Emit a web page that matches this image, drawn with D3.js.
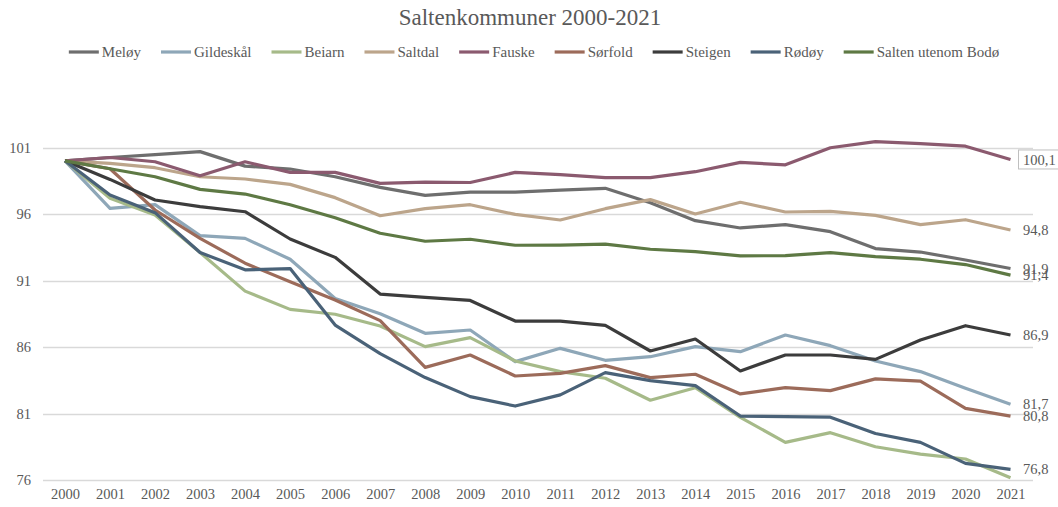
<!DOCTYPE html>
<html>
<head>
<meta charset="utf-8">
<script src="https://cdn.jsdelivr.net/npm/d3@7"></script>
<style>
  body { margin: 0; background: #fff; }
  svg text { font-family: "Liberation Serif", "DejaVu Serif", serif; fill: #595959; }
</style>
</head>
<body>
<div id="chart"></div>
<script>
var svgWidth = 1058;
var svgHeight = 507;

// Data
var years = ["2000", "2001", "2002", "2003", "2004", "2005", "2006", "2007", "2008", "2009", "2010",
  "2011", "2012", "2013", "2014", "2015", "2016", "2017", "2018", "2019", "2020", "2021"];

var seriesNames = ["Meløy", "Gildeskål", "Beiarn", "Saltdal", "Fauske", "Sørfold", "Steigen", "Rødøy", "Salten utenom Bodø"];

var meloy = [100, 100.25, 100.46, 100.69, 99.6, 99.38, 98.8, 98.0, 97.4, 97.65, 97.65, 97.8, 97.93, 96.85, 95.5, 94.95, 95.2, 94.67, 93.4, 93.14, 92.54, 91.9];
var gildeskal = [100, 96.42, 96.7, 94.37, 94.17, 92.6, 89.65, 88.5, 87.03, 87.28, 84.9, 85.9, 85.0, 85.27, 86.03, 85.65, 86.9, 86.1, 84.95, 84.15, 82.9, 81.7];
var beiarn = [100, 97.18, 95.92, 93.1, 90.2, 88.83, 88.46, 87.58, 86.03, 86.7, 84.95, 84.15, 83.65, 82.0, 82.94, 80.71, 78.83, 79.56, 78.5, 77.95, 77.58, 76.17];
var saltdal = [100, 99.8, 99.48, 98.8, 98.63, 98.23, 97.23, 95.87, 96.4, 96.7, 95.97, 95.55, 96.4, 97.08, 96.0, 96.88, 96.15, 96.2, 95.9, 95.2, 95.57, 94.8];
var fauske = [100, 100.25, 99.93, 98.88, 99.93, 99.13, 99.13, 98.3, 98.4, 98.37, 99.13, 98.96, 98.73, 98.73, 99.18, 99.88, 99.7, 100.98, 101.44, 101.29, 101.1, 100.1];
var sorfold = [100, 99.4, 96.3, 94.17, 92.3, 90.9, 89.53, 87.98, 84.47, 85.4, 83.82, 84.02, 84.6, 83.7, 83.95, 82.47, 82.94, 82.72, 83.6, 83.44, 81.39, 80.8];
var steigen = [100, 98.6, 97.05, 96.55, 96.17, 94.12, 92.74, 89.98, 89.73, 89.5, 87.95, 87.95, 87.63, 85.7, 86.6, 84.2, 85.4, 85.4, 85.07, 86.53, 87.6, 86.9];
var rodoy = [100, 97.43, 96.1, 93.1, 91.8, 91.9, 87.65, 85.5, 83.7, 82.27, 81.56, 82.4, 84.07, 83.47, 83.1, 80.81, 80.77, 80.72, 79.5, 78.83, 77.25, 76.8];
var salten = [100, 99.4, 98.8, 97.85, 97.5, 96.7, 95.72, 94.55, 93.95, 94.1, 93.65, 93.66, 93.74, 93.35, 93.17, 92.85, 92.87, 93.1, 92.8, 92.6, 92.2, 91.4];

var seriesValues = [meloy, gildeskal, beiarn, saltdal, fauske, sorfold, steigen, rodoy, salten];
var colors = ["#6e6e6e", "#8ea7b8", "#a6ba89", "#bca58b", "#8b5a6f", "#9c6b5a", "#3c3c3c", "#4a6278", "#5e7944"];

var yTicks = [76, 81, 86, 91, 96, 101];
var endLabels = ["91,9", "81,7", "", "94,8", "100,1", "80,8", "86,9", "76,8", "91,4"];

var fontFam = "'Liberation Serif', 'DejaVu Serif', serif";
var margin = { top: 60, right: 25, bottom: 27, left: 43 };

var svg = d3.select("#chart")
  .append("svg")
  .attr("width", svgWidth)
  .attr("height", svgHeight)
  .attr("font-family", fontFam);

var x = d3.scalePoint()
  .domain(years)
  .range([65, 1010.5]);

var y = d3.scaleLinear()
  .domain([76, 101])
  .range([480, 147.5]);

// gridlines
svg.append("g")
  .selectAll("line")
  .data(yTicks)
  .enter()
  .append("line")
  .attr("x1", margin.left)
  .attr("x2", svgWidth - margin.right)
  .attr("y1", d => Math.round(y(d)) + 0.5)
  .attr("y2", d => Math.round(y(d)) + 0.5)
  .attr("stroke", "#d9d9d9")
  .attr("stroke-width", 1.3);

// y axis labels
var leftAxis = d3.axisLeft(y).tickValues(yTicks).tickSize(0).tickPadding(0);
svg.append("g")
  .attr("transform", "translate(31,0)")
  .call(leftAxis)
  .attr("font-family", fontFam)
  .call(g => g.select(".domain").remove())
  .selectAll("text")
  .attr("font-size", 14.5)
  .attr("fill", "#595959");

// x axis labels
var bottomAxis = d3.axisBottom(x).tickSize(0).tickPadding(0);
svg.append("g")
  .attr("transform", "translate(0,489)")
  .call(bottomAxis)
  .attr("font-family", fontFam)
  .call(g => g.select(".domain").remove())
  .selectAll("text")
  .attr("font-size", 14.5)
  .attr("fill", "#595959");

// lines
var line = d3.line()
  .x((d, i) => x(years[i]))
  .y(d => y(d));

svg.append("g")
  .selectAll("path")
  .data(seriesValues)
  .enter()
  .append("path")
  .attr("d", d => line(d))
  .attr("fill", "none")
  .attr("stroke", (d, i) => colors[i])
  .attr("stroke-width", 3.2)
  .attr("stroke-linejoin", "round");

// end labels
seriesValues.forEach(function(vals, i) {
  if (!endLabels[i]) return;
  var ly = y(vals[vals.length - 1]);
  var t = svg.append("text")
    .attr("x", 1023)
    .attr("y", ly)
    .attr("dy", "0.35em")
    .attr("font-size", 14.5)
    .text(endLabels[i]);
  if (seriesNames[i] === "Fauske") {
    var bb = t.node().getBBox();
    svg.append("rect")
      .attr("x", bb.x - 4.5)
      .attr("y", ly - 9.5)
      .attr("width", bb.width + 9)
      .attr("height", 19)
      .attr("fill", "none")
      .attr("stroke", "#bfbfbf");
  }
});

// title
svg.append("text")
  .attr("x", 530)
  .attr("y", 25)
  .attr("text-anchor", "middle")
  .attr("font-size", 23)
  .text("Saltenkommuner 2000-2021");

// legend
var legend = svg.append("g");
var lx = 0;
seriesNames.forEach(function(name, i) {
  var item = legend.append("g").attr("transform", `translate(${lx},0)`);
  item.append("line")
    .attr("x1", 0).attr("x2", 30)
    .attr("y1", 0).attr("y2", 0)
    .attr("stroke", colors[i])
    .attr("stroke-width", 3.2);
  var txt = item.append("text")
    .attr("x", 33)
    .attr("dy", "0.35em")
    .attr("font-size", 15)
    .text(name);
  lx += 33 + txt.node().getComputedTextLength() + 20;
});
var legendWidth = lx - 20;
legend.attr("transform", `translate(${534 - legendWidth / 2},52)`);
</script>
</body>
</html>
